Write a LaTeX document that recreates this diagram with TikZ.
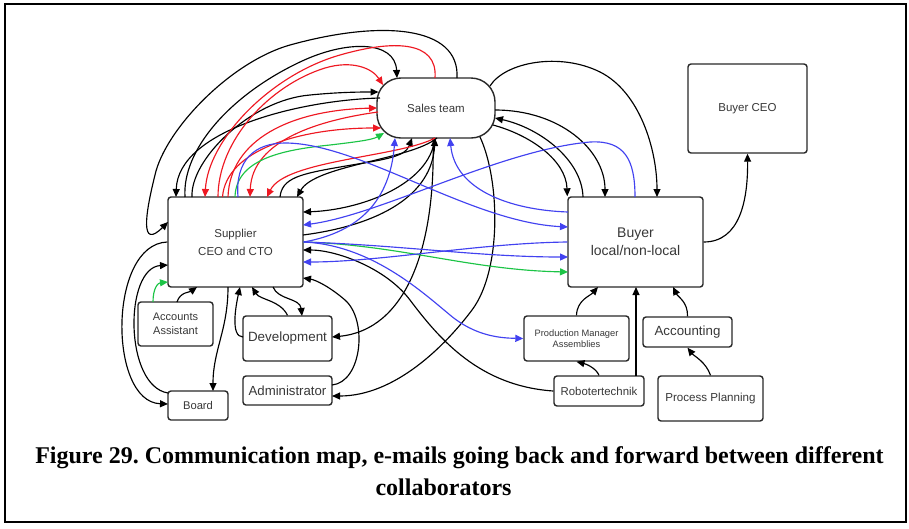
\documentclass[tikz,border=0pt]{standalone}
\usepackage{fontspec}
\setmainfont{Liberation Serif}
\setsansfont{Liberation Sans}
\usetikzlibrary{arrows.meta}
\definecolor{lnred}{RGB}{238,24,34}
\definecolor{lnblue}{RGB}{66,66,240}
\definecolor{lngreen}{RGB}{28,196,70}
\definecolor{boxline}{RGB}{40,40,40}
\newcommand\fs[1]{\fontsize{#1}{#1}\selectfont}
\frenchspacing
\begin{document}
\begin{tikzpicture}[x=1pt,y=-1pt,
  box/.style={draw=boxline, line width=1.4pt, rounded corners=3pt, fill=white,
    text=black!78, font=\sffamily, align=center, inner sep=0pt},
  ln/.style={line width=1.15pt},
  tip/.style={-{Triangle[length=8pt,width=7pt]}},
  kk/.style={ln, black},
  rr/.style={ln, lnred},
  bb/.style={ln, lnblue},
  gg/.style={ln, lngreen}]
\useasboundingbox (0,0) rectangle (909,528);
\draw[line width=2pt] (5,4) rectangle (906,522);

% ---------- boxes ----------
\node[box, minimum width=118pt, minimum height=60pt, rounded corners=24pt,
  font=\sffamily\fs{11.5}] (sales) at (436,108) {Sales team};
\node[box, minimum width=135pt, minimum height=90pt,
  font=\sffamily\fontsize{11.5}{18}\selectfont] (sup) at (235.5,242) {Supplier\\CEO and CTO};
\node[box, minimum width=75pt, minimum height=44pt,
  font=\sffamily\fontsize{11}{13.5}\selectfont] (aa) at (175.5,324) {Accounts\\Assistant};
\node[box, minimum width=89pt, minimum height=45pt, font=\sffamily\fs{13.4}] (dev) at (287.5,338.5) {Development};
\node[box, minimum width=89pt, minimum height=29pt, font=\sffamily\fs{13.2}] (adm) at (287.5,390.5) {Administrator};
\node[box, minimum width=60pt, minimum height=29pt, font=\sffamily\fs{11.2}] (board) at (198,405.5) {Board};
\node[box, minimum width=135pt, minimum height=90pt,
  font=\sffamily\fontsize{14}{18}\selectfont] (buyer) at (635.5,242) {Buyer\\local/non-local};
\node[box, minimum width=119pt, minimum height=89pt, font=\sffamily\fs{11.5}] (bceo) at (747.5,108.5) {Buyer CEO};
\node[box, minimum width=105pt, minimum height=45pt,
  font=\sffamily\fontsize{9.3}{11.5}\selectfont] (pm) at (576.5,338.5) {Production Manager\\Assemblies};
\node[box, minimum width=89pt, minimum height=30pt, font=\sffamily\fs{13.3}] (acc) at (687.5,332) {Accounting};
\node[box, minimum width=90pt, minimum height=30pt, font=\sffamily\fs{11.4}] (robo) at (599,391) {Robotertechnik};
\node[box, minimum width=105pt, minimum height=45pt, font=\sffamily\fs{11.6}] (pp) at (710.5,398.5) {Process Planning};

% ---------- black connectors ----------
\draw[kk,tip] ([shift={(21,-30)}]sales.center) .. controls (460,25) and (380,20) .. (290,45)
  .. controls (230,62) and (165,130) .. (155,175) .. controls (145,215) and (140,250) .. ([shift={(-67.5,-20)}]sup.center);
\draw[kk,tip] ([shift={(-50.5,-45)}]sup.center) .. controls (182,150) and (230,95) .. (300,62)
  .. controls (346,40) and (395,40) .. ([shift={(-39,-30)}]sales.center);
\draw[kk,tip] ([shift={(-43.5,-45)}]sup.center) .. controls (190,160) and (250,100) .. (310,95)
  .. controls (340,92) and (362,92) .. ([shift={(-57.5,-16)}]sales.center);
\draw[kk,tip] ([shift={(-56,-10)}]sales.center) .. controls (300,100) and (178,130) .. ([shift={(-59.5,-45)}]sup.center);
\draw[kk,tip] ([shift={(44.5,-45)}]sup.center) .. controls (282,178) and (300,174) .. (340,167)
  .. controls (380,160) and (405,158) .. ([shift={(-24,30)}]sales.center);
\draw[kk,tip] ([shift={(1,30)}]sales.center) .. controls (410,160) and (315,165) .. ([shift={(61.5,-45)}]sup.center);
\draw[kk,tip] ([shift={(-1,30)}]sales.center) .. controls (430,185) and (360,210) .. ([shift={(67.5,-30)}]sup.center);
\draw[kk,tip] ([shift={(67.5,-7)}]sup.center) .. controls (380,225) and (432,195) .. ([shift={(-1,30)}]sales.center);
\draw[kk,tip] ([shift={(-3,30)}]sales.center) .. controls (436,250) and (405,330) .. ([shift={(44.5,-1.5)}]dev.center);
\draw[kk,tip] ([shift={(44,29)}]sales.center) .. controls (500,180) and (502,270) .. (472,310)
  .. controls (445,346) and (395,396) .. ([shift={(44.5,5.5)}]adm.center);
\draw[kk,tip] ([shift={(44.5,-5.5)}]adm.center) .. controls (362,382) and (368,320) .. (345,300)
  .. controls (330,287) and (316,280) .. ([shift={(67.5,36)}]sup.center);
\draw[kk,tip] (robo.west) .. controls (480,386) and (440,340) .. (410,300)
  .. controls (385,267) and (335,250) .. ([shift={(67.5,8)}]sup.center);

% sales team and buyer
\draw[kk,tip] ([shift={(54,-22)}]sales.center) .. controls (505,62) and (560,52) .. (600,72)
  .. controls (640,92) and (657,150) .. ([shift={(21.5,-45)}]buyer.center);
\draw[kk,tip] ([shift={(59,2)}]sales.center) .. controls (560,110) and (605,150) .. ([shift={(-30.5,-45)}]buyer.center);
\draw[kk,tip] ([shift={(-52.5,-45)}]buyer.center) .. controls (582,160) and (540,128) .. ([shift={(59,10)}]sales.center);
\draw[kk,tip] ([shift={(57,17)}]sales.center) .. controls (530,135) and (566,160) .. (buyer.north west);

% buyer side
\draw[kk,tip] ([shift={(37,-15)}]robo.center) -- ([shift={(0.5,45)}]buyer.center);
\draw[kk,tip] (pm.north) .. controls (577,300) and (590,296) .. ([shift={(-37.5,45)}]buyer.center);
\draw[kk,tip] (acc.north) .. controls (688,302) and (678,297) .. ([shift={(37.5,45)}]buyer.center);
\draw[kk,tip] (robo.north) .. controls (596,368) and (586,364) .. (pm.south);
\draw[kk,tip] (pp.north) .. controls (706,362) and (694,356) .. (acc.south);
\draw[kk,tip] (buyer.east) .. controls (740,242) and (748,200) .. (bceo.south);

% supplier side
\draw[kk,tip] (sup.west) .. controls (108,244) and (108,402) .. ([shift={(-30,-1.5)}]board.center);
\draw[kk,tip] ([shift={(-30,-12.5)}]board.center) .. controls (124,386) and (124,268) .. ([shift={(-67.5,23)}]sup.center);
\draw[gg,tip] ([shift={(-22.5,-22)}]aa.center) .. controls (153,288) and (158,283) .. ([shift={(-67.5,40)}]sup.center);
\draw[kk,tip] ([shift={(1.5,-22)}]aa.center) .. controls (180,292) and (190,292) .. ([shift={(-38.5,45)}]sup.center);
\draw[kk,tip] ([shift={(-7.5,45)}]sup.center) .. controls (228,330) and (213,350) .. ([shift={(15,-14.5)}]board.center);
\draw[kk,tip] ([shift={(-44.5,-1.5)}]dev.center) .. controls (230,337) and (236,305) .. ([shift={(4.5,45)}]sup.center);
\draw[kk,tip] (dev.north) .. controls (280,300) and (260,300) .. ([shift={(16.5,45)}]sup.center);
\draw[kk,tip] ([shift={(37.5,45)}]sup.center) .. controls (278,300) and (300,298) .. ([shift={(14.5,-22.5)}]dev.center);

% ---------- red connectors ----------
\draw[rr,tip] ([shift={(-1,-30)}]sales.center) .. controls (438,40) and (392,40) .. (340,55)
  .. controls (270,75) and (208,140) .. ([shift={(-30.5,-45)}]sup.center);
\draw[rr,tip] ([shift={(-17.5,-45)}]sup.center) .. controls (218,140) and (270,85) .. (325,68)
  .. controls (352,60) and (372,68) .. ([shift={(-53,-23)}]sales.center);
\draw[rr,tip] ([shift={(-7.5,-45)}]sup.center) .. controls (230,140) and (290,110) .. ([shift={(-59,0)}]sales.center);
\draw[rr,tip] ([shift={(-13,-45)}]sup.center) .. controls (226,150) and (300,128) .. ([shift={(-55,20)}]sales.center);
\draw[rr,tip] ([shift={(-58,4)}]sales.center) .. controls (320,120) and (252,140) .. ([shift={(14.5,-45)}]sup.center);
\draw[rr,tip] ([shift={(-1,30)}]sales.center) .. controls (400,157) and (285,160) .. ([shift={(31.5,-45)}]sup.center);

% ---------- green connectors ----------
\draw[gg,tip] ([shift={(-0.5,-45)}]sup.center) .. controls (236,160) and (280,150) .. (330,145)
  .. controls (355,142) and (372,140) .. ([shift={(-52,25)}]sales.center);
\draw[gg,tip] (sup.east) .. controls (400,245) and (470,270) .. ([shift={(-67.5,30)}]buyer.center);

% ---------- blue connectors ----------
\draw[bb,tip] ([shift={(2.5,-45)}]sup.center) .. controls (235,160) and (255,143) .. (285,143)
  .. controls (360,143) and (470,222) .. ([shift={(-67.5,-15)}]buyer.center);
\draw[bb,tip] (sup.east) .. controls (360,232) and (390,200) .. ([shift={(-41,30)}]sales.center);
\draw[bb,tip] ([shift={(-0.5,-45)}]buyer.center) .. controls (635,160) and (625,140) .. (590,142)
  .. controls (500,150) and (380,215) .. ([shift={(67.5,-17)}]sup.center);
\draw[bb,tip] (sup.east) .. controls (400,245) and (480,257) .. ([shift={(-67.5,15)}]buyer.center);
\draw[bb,tip] (buyer.west) .. controls (480,243) and (380,262) .. ([shift={(67.5,20)}]sup.center);
\draw[bb,tip] (sup.east) .. controls (370,245) and (420,290) .. (450,315)
  .. controls (475,336) and (500,338) .. (pm.west);
\draw[bb,tip] ([shift={(-67.5,-30)}]buyer.center) .. controls (510,210) and (455,190) .. ([shift={(14,30)}]sales.center);

% ---------- caption ----------
\node[font=\rmfamily\bfseries\fs{24}] (cap1) at (459.5,458) {Figure 29. Communication map, e-mails going back and forward between different};
\node[font=\rmfamily\bfseries\fs{24}] (cap2) at (443.5,487) {collaborators};
\end{tikzpicture}
\end{document}
